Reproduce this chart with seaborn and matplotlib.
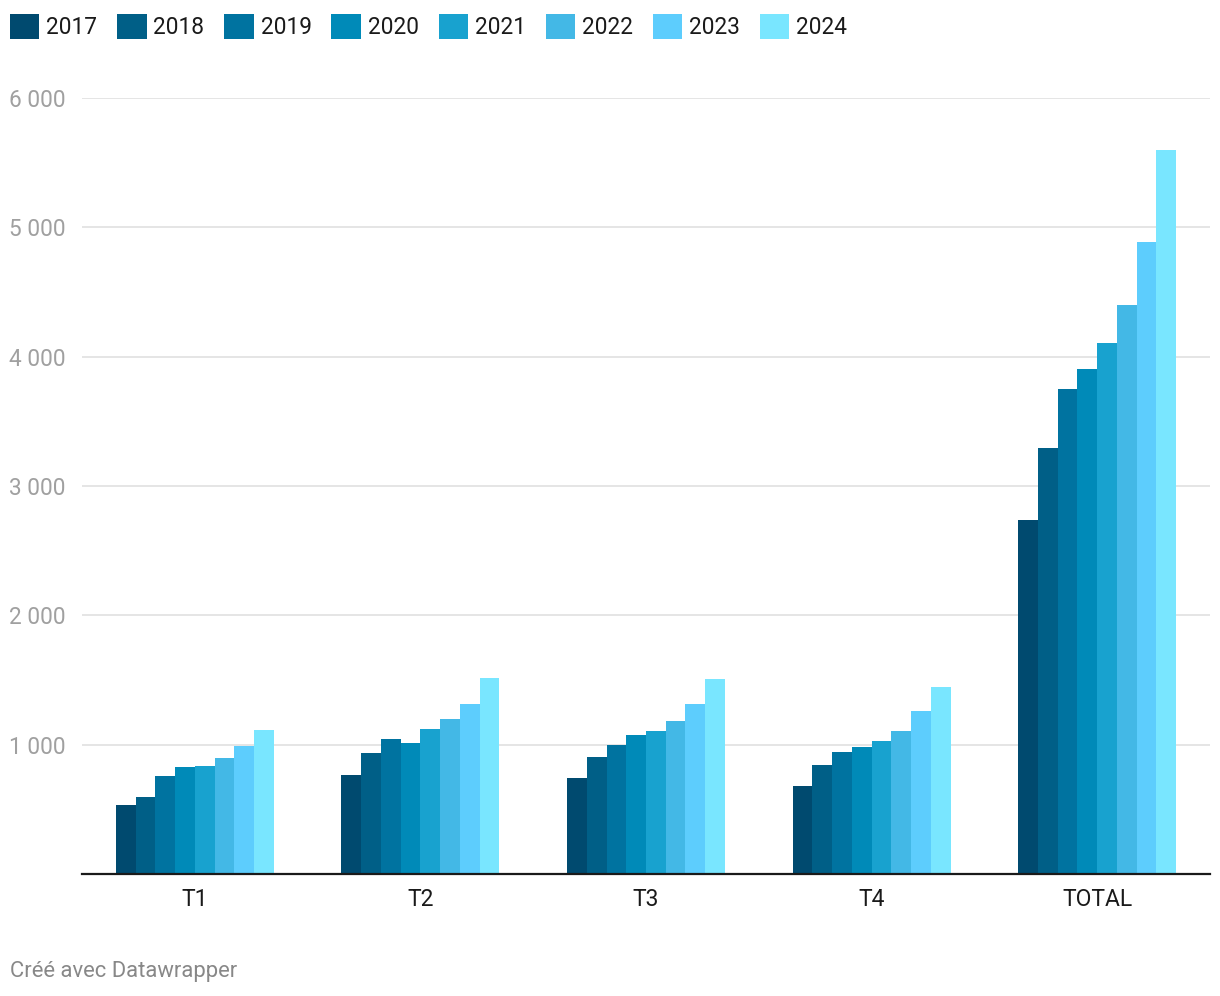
import pandas as pd
import matplotlib.pyplot as plt
import matplotlib.ticker as mticker
from matplotlib.patches import Patch
import seaborn as sns

# Data
periods = ['T1', 'T2', 'T3', 'T4', 'TOTAL']
years = ['2017', '2018', '2019', '2020', '2021', '2022', '2023', '2024']
v2017 = [530, 762, 739, 677, 2736]
v2018 = [592, 933, 902, 840, 3293]
v2019 = [755, 1041, 995, 940, 3750]
v2020 = [824, 1010, 1072, 979, 3905]
v2021 = [832, 1118, 1103, 1025, 4106]
v2022 = [894, 1196, 1180, 1103, 4400]
v2023 = [987, 1312, 1312, 1258, 4887]
v2024 = [1110, 1513, 1505, 1444, 5600]
colors = ['#004a6f', '#005f87', '#0073a0', '#008ab8',
          '#18a2cf', '#43b8e6', '#5dcdfd', '#79e6ff']

series = [v2017, v2018, v2019, v2020, v2021, v2022, v2023, v2024]
rows = []
for y, vals in zip(years, series):
    for p, v in zip(periods, vals):
        rows.append({'period': p, 'year': y, 'value': v})
df = pd.DataFrame(rows)

sns.set_style('white')
plt.rcParams['font.family'] = ['Roboto', 'DejaVu Sans']

fig = plt.figure(figsize=(12.2, 9.96), dpi=100)
ax = fig.add_axes([82 / 1220, 1 - 874 / 996, 1128 / 1220, 776 / 996])

sns.barplot(data=df, x='period', y='value', hue='year', order=periods,
            hue_order=years, palette=colors, saturation=1, width=0.7,
            linewidth=0, legend=False, ax=ax)

ax.set_xlim(-0.5, 4.5)
ax.set_ylim(0, 6000)
ax.set_yticks([1000, 2000, 3000, 4000, 5000, 6000])
ax.yaxis.set_major_formatter(mticker.FuncFormatter(lambda v, _: f'{int(v):,}'.replace(',', ' ')))
ax.grid(axis='y', color='#e5e5e5', linewidth=1.4)
ax.set_axisbelow(True)
for s in ['top', 'right', 'left']:
    ax.spines[s].set_visible(False)
ax.spines['bottom'].set_color('#1a1a1a')
ax.spines['bottom'].set_linewidth(1.6)
ax.tick_params(axis='y', length=0, pad=12, labelsize=16.3, labelcolor='#a0a0a0')
ax.tick_params(axis='x', length=0, pad=10, labelsize=16.5, labelcolor='#1a1a1a')
ax.set_xlabel('')
ax.set_ylabel('')

handles = [Patch(facecolor=c, edgecolor='none', label=y) for y, c in zip(years, colors)]
fig.legend(handles=handles, loc='upper left', bbox_to_anchor=(1 / 1220, 1 - 5 / 996),
           ncol=8, frameon=False, fontsize=16.3, handlelength=1.3, handleheight=1.3,
           handletextpad=0.3, columnspacing=0.88, borderaxespad=0, labelcolor='#1a1a1a')

fig.text(10 / 1220, 1 - 971 / 996, 'Créé avec Datawrapper', fontsize=15.8,
         color='#888888', va='center', ha='left')

fig.savefig('out.png', dpi=100)
